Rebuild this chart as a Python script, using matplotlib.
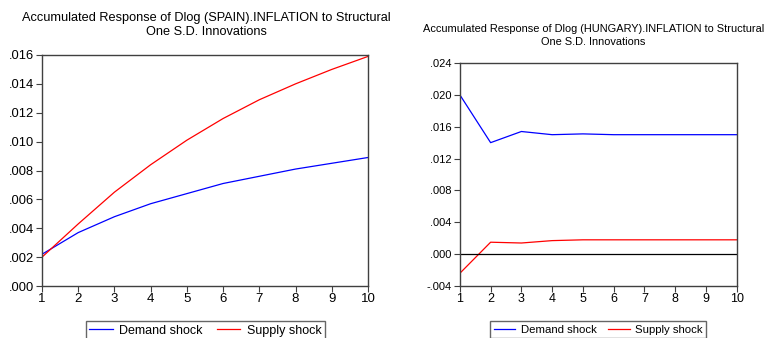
import numpy as np
import matplotlib
matplotlib.use("Agg")
import matplotlib.pyplot as plt
from matplotlib.ticker import FuncFormatter

plt.rcParams['font.family'] = ['Liberation Sans', 'DejaVu Sans']

periods = list(range(1, 11))

# Spain accumulated responses
spain_demand = [0.0022, 0.0037, 0.0048, 0.0057, 0.0064, 0.0071, 0.0076, 0.0081, 0.0085, 0.0089]
spain_supply = [0.0020, 0.0043, 0.0065, 0.0084, 0.0101, 0.0116, 0.0129, 0.0140, 0.0150, 0.0159]

# Hungary accumulated responses
hungary_demand = [0.0200, 0.0140, 0.0154, 0.0150, 0.0151, 0.0150, 0.0150, 0.0150, 0.0150, 0.0150]
hungary_supply = [-0.0024, 0.0015, 0.0014, 0.0017, 0.0018, 0.0018, 0.0018, 0.0018, 0.0018, 0.0018]

spain_yticks = [0.000, 0.002, 0.004, 0.006, 0.008, 0.010, 0.012, 0.014, 0.016]
hungary_yticks = [-0.004, 0.000, 0.004, 0.008, 0.012, 0.016, 0.020, 0.024]


def fmt(v, pos):
    s = '%.3f' % v
    if s.startswith('-0'):
        return '-' + s[2:]
    if s.startswith('0'):
        return s[1:]
    return s


def style_axes(ax, yticks, ylim, yfs, xfs):
    ax.set_xlim(1, 10)
    ax.set_ylim(*ylim)
    ax.set_xticks(periods)
    ax.set_yticks(yticks)
    ax.yaxis.set_major_formatter(FuncFormatter(fmt))
    for s in ax.spines.values():
        s.set_color('#404040')
        s.set_linewidth(1.0)
    ax.tick_params(direction='out', length=4, width=0.8, color='#404040', pad=2)
    ax.tick_params(axis='y', labelsize=yfs)
    ax.tick_params(axis='x', labelsize=xfs, pad=1)


fig = plt.figure(figsize=(7.69, 3.38), dpi=100)

# left panel
ax1 = fig.add_axes([0.0546, 0.1538, 0.4239, 0.6835])
ax1.plot(periods, spain_demand, color='#0000ff', lw=0.9, label='Demand shock')
ax1.plot(periods, spain_supply, color='#ff0000', lw=0.9, label='Supply shock')
style_axes(ax1, spain_yticks, (0, 0.016), 9.3, 9.5)
fig.text(0.268, 0.926, 'Accumulated Response of Dlog (SPAIN).INFLATION to Structural\nOne S.D. Innovations',
         ha='center', va='center', fontsize=9.2, linespacing=1.2)
ax1.legend(loc='center', bbox_to_anchor=(0.267, 0.022), bbox_transform=fig.transFigure,
           ncol=2, fontsize=9, frameon=True, fancybox=False, edgecolor='#404040',
           handlelength=1.9, columnspacing=1.1, borderpad=0.3, borderaxespad=0,
           handletextpad=0.5)

# right panel
ax2 = fig.add_axes([0.598, 0.1538, 0.360, 0.6598])
ax2.plot(periods, hungary_demand, color='#0000ff', lw=0.9, label='Demand shock')
ax2.plot(periods, hungary_supply, color='#ff0000', lw=0.9, label='Supply shock')
ax2.axhline(0, color='black', lw=0.9)
style_axes(ax2, hungary_yticks, (-0.004, 0.024), 8, 9)
fig.text(0.772, 0.894, 'Accumulated Response of Dlog (HUNGARY).INFLATION to Structural\nOne S.D. Innovations',
         ha='center', va='center', fontsize=7.9, linespacing=1.35)
ax2.legend(loc='center', bbox_to_anchor=(0.778, 0.025), bbox_transform=fig.transFigure,
           ncol=2, fontsize=8.2, frameon=True, fancybox=False, edgecolor='#404040',
           handlelength=1.9, columnspacing=1.0, borderpad=0.3, borderaxespad=0,
           handletextpad=0.5)

fig.savefig('out.png', dpi=100)
